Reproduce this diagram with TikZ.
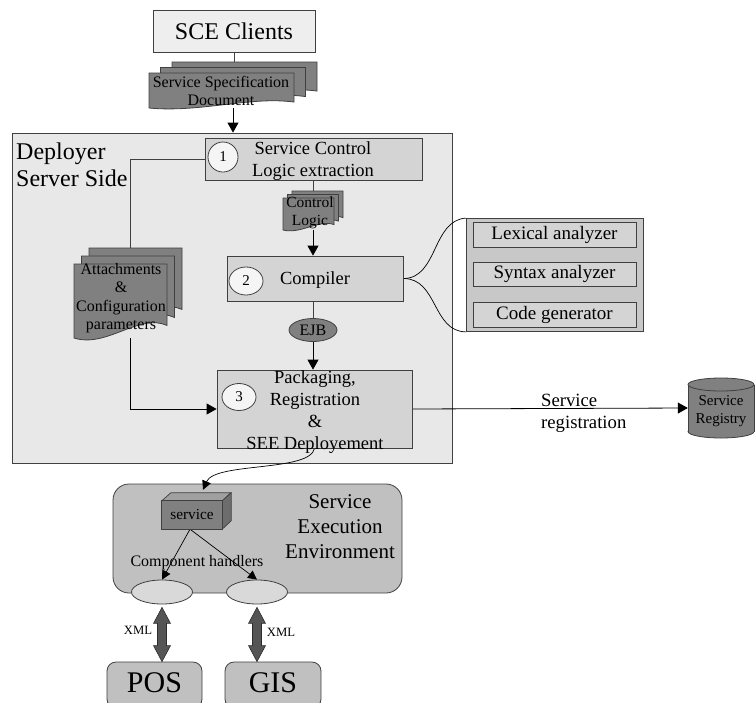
\documentclass[tikz,border=0pt]{standalone}
\usepackage{fontspec}
\setmainfont{Liberation Serif}
\usetikzlibrary{arrows.meta,calc,shapes.geometric}

\definecolor{edge}{HTML}{404040}
\definecolor{pagebg}{HTML}{FFFFFF}
\definecolor{clientfill}{HTML}{EEEEEE}
\definecolor{serverfill}{HTML}{E8E8E8}
\definecolor{procfill}{HTML}{D4D4D4}
\definecolor{darkfill}{HTML}{808080}
\definecolor{seefill}{HTML}{C0C0C0}
\definecolor{toolfill}{HTML}{C8C8C8}
\definecolor{portfill}{HTML}{D9D9D9}
\definecolor{stepfill}{HTML}{F5F5F5}
\definecolor{blockfill}{HTML}{555555}

\pgfdeclarelayer{back}
\pgfdeclarelayer{links}
\pgfsetlayers{back,links,main}

\tikzset{
  fnt/.style 2 args={font=\fontsize{#1}{#2}\selectfont},
  frame/.style={rectangle, inner sep=0pt},
  procbox/.style={rectangle, draw=edge, fill=procfill, line width=0.8pt, inner sep=0pt},
  txt/.style={inner sep=0pt, align=center, text=black},
  stepno/.style={ellipse, draw=edge, fill=stepfill, line width=0.8pt, inner sep=0pt, fnt={15}{17}},
  docsh/.style={draw=edge, fill=darkfill, line width=0.8pt},
  arr/.style={-{Triangle[length=10pt,width=11pt]}, line width=0.8pt, draw=black},
  arrsmall/.style={-{Triangle[length=9pt,width=9pt]}, line width=0.7pt, draw=black},
  plain/.style={line width=0.8pt, draw=edge},
  blockarr/.style={fill=blockfill, draw=edge!70!black, line width=0.6pt},
}

% one document sheet with a wavy lower edge: left, top, width, height
\newcommand{\docsheet}[4]{%
  \draw[docsh] ({#1},{#2}) -- ({#1+#3},{#2}) -- ({#1+#3},{#2+0.83*#4})
    .. controls ({#1+0.7*#3},{#2+0.66*#4}) and ({#1+0.35*#3},{#2+1.14*#4})
    .. ({#1},{#2+#4}) -- cycle;}
% a stack of three sheets, back sheets shifted by (dx,-dy)
\newcommand{\docstack}[6]{%
  \docsheet{#1+2*#5}{#2-2*#6}{#3}{#4}%
  \docsheet{#1+#5}{#2-#6}{#3}{#4}%
  \docsheet{#1}{#2}{#3}{#4}}
% thick two-headed block arrow between two points on a vertical line
\newcommand{\blockarrow}[2]{%
  \path[blockarr] let \p1=(#1), \p2=(#2) in
    (\x1,\y1) -- (\x1+8.5pt,\y1-16pt) -- (\x1+4.5pt,\y1-16pt) -- (\x1+4.5pt,\y2+16pt)
    -- (\x1+8.5pt,\y2+16pt) -- (\x1,\y2) -- (\x1-8.5pt,\y2+16pt) -- (\x1-4.5pt,\y2+16pt)
    -- (\x1-4.5pt,\y1-16pt) -- (\x1-8.5pt,\y1-16pt) -- cycle;}

\begin{document}
\begin{tikzpicture}[x=1pt,y=-1pt]
\useasboundingbox (0,0) rectangle (755,702);

% ---------- background regions ----------
\begin{pgfonlayer}{back}
  \fill[pagebg] (0,0) rectangle (755,702);
  \node[rectangle, draw=edge, fill=serverfill, line width=0.8pt,
        minimum width=440, minimum height=330] (dep) at (232,298) {};
  \node[rectangle, rounded corners=16pt, draw=edge, fill=seefill, line width=0.8pt,
        minimum width=289, minimum height=109] (see) at (257.5,538.5) {};
\end{pgfonlayer}

% ---------- clients ----------
\node[rectangle, draw=edge, fill=clientfill, line width=0.8pt, fnt={24}{28},
      minimum width=162, minimum height=42, inner sep=0pt] (sce) at (234,31) {SCE Clients};

% service specification document
\docstack{149}{73}{145}{35}{11.5}{5.5}
\node[frame, minimum width=168, minimum height=46] (ssd) at (233,85) {};
\node[txt, fnt={16}{17.5}] (ssdtxt) at (221,91) {Service Specification\\Document};

% ---------- deployer server side ----------
\node[txt, align=left, anchor=north west, fnt={24}{27}] (deptxt) at (16,142.5) {Deployer\\Server Side};

\node[procbox, minimum width=217, minimum height=42] (box1) at (313.5,159) {};
\node[stepno, minimum width=30, minimum height=30] (c1) at (223,157) {1};
\node[txt, fnt={18.5}{21.5}] (box1txt) at (313,161) {Service Control\\Logic extraction};

% control logic document
\docstack{283}{198}{51}{32}{4.5}{3.5}
\node[frame, minimum width=60, minimum height=39] (cl) at (313,210.5) {};
\node[txt, fnt={15.5}{18}] (cltxt) at (310,213) {Control\\Logic};

\node[procbox, minimum width=176, minimum height=45] (comp) at (315,278.5) {};
\node[stepno, minimum width=34, minimum height=28] (c2) at (246,281) {2};
\node[txt, fnt={18.5}{21.5}] (comptxt) at (315,280) {Compiler};

\node[ellipse, draw=edge, fill=darkfill, line width=0.8pt, inner sep=0pt, fnt={16}{18},
      minimum width=48, minimum height=23] (ejb) at (313,330) {EJB};

% attachments document
\docstack{74}{264}{93}{74}{7.5}{8}
\node[frame, minimum width=112, minimum height=90] (att) at (130,293) {};
\node[txt, fnt={16}{18.5}] (atttxt) at (121,298) {Attachments\\\&\\Configuration\\parameters};

\node[procbox, minimum width=195, minimum height=78] (box3) at (314.5,409) {};
\node[stepno, minimum width=34, minimum height=27] (c3) at (239,397) {3};
\node[txt, fnt={18.5}{22}] (box3txt) at (315,412) {Packaging,\\Registration\\\&\\SEE Deployement};

% ---------- compiler stages ----------
\node[rectangle, draw=edge, fill=toolfill, line width=0.8pt,
      minimum width=177, minimum height=113] (tools) at (555,275) {};
\node[procbox, fnt={19}{21}, minimum width=163, minimum height=25] (lex) at (554.5,234.5) {Lexical analyzer};
\node[procbox, fnt={19}{21}, minimum width=163, minimum height=24] (syn) at (554.5,274) {Syntax analyzer};
\node[procbox, fnt={19}{21}, minimum width=163, minimum height=25] (gen) at (554.5,314.5) {Code generator};

% ---------- service registry ----------
\node[frame, minimum width=66, minimum height=60] (reg) at (721,408) {};
\draw[docsh] (721,431.5) ellipse [x radius=33, y radius=6.5];
\fill[darkfill] (688,384.5) rectangle (754,431.5);
\draw[plain] (688,384.5) -- (688,431.5) (754,384.5) -- (754,431.5);
\draw[docsh] (721,384.5) ellipse [x radius=33, y radius=6.5];
\node[txt, fnt={15}{17.5}] (regtxt) at (721,411) {Service\\Registry};

\node[txt, align=left, anchor=west, fnt={18.7}{22}] (regnote) at (541,413) {Service\\registration};

% ---------- service execution environment ----------
\node[txt, fnt={21}{25}] (seetxt) at (340,527) {Service\\Execution\\Environment};

\node[frame, minimum width=60, minimum height=28] (svc) at (192,515) {};
\fill[darkfill!75!white, draw=edge, line width=0.7pt]
  (svc.north west) -- ++(9,-8) -- ++(60,0) -- (svc.north east) -- cycle;
\fill[darkfill!85!black, draw=edge, line width=0.7pt]
  (svc.north east) -- ++(9,-8) -- ++(0,28) -- (svc.south east) -- cycle;
\draw[docsh, line width=0.7pt] (svc.south west) rectangle (svc.north east);
\node[txt, fnt={15.3}{17}] (svctxt) at (svc.center) {service};

\node[txt, fnt={16}{18}] (handlers) at (197,563) {Component handlers};

\node[ellipse, draw=edge, fill=portfill, line width=0.8pt, inner sep=0pt,
      minimum width=61, minimum height=24] (e1) at (162,592) {};
\node[ellipse, draw=edge, fill=portfill, line width=0.8pt, inner sep=0pt,
      minimum width=61, minimum height=24] (e2) at (257,592) {};

\node[rectangle, rounded corners=9pt, draw=edge, fill=seefill, line width=0.8pt,
      minimum width=95, minimum height=46] (pos) at (154.5,685) {};
\node[rectangle, rounded corners=9pt, draw=edge, fill=seefill, line width=0.8pt,
      minimum width=96, minimum height=46] (gis) at (273,685) {};
\node[txt, fnt={30}{32}] (postxt) at (154.5,683) {POS};
\node[txt, fnt={30}{32}] (gistxt) at (273,683) {GIS};

\node[txt, fnt={12.7}{14}] (xml1) at (138,630) {XML};
\node[txt, fnt={12.7}{14}] (xml2) at (281,632) {XML};

% ---------- connectors ----------
\begin{pgfonlayer}{links}
  \draw[plain] (sce.south) -- (sce.south |- ssd.north);
  \draw[arr] (ssd.south) -- (ssd.south |- dep.north);
  \draw[plain] (box1.south -| cl.north) -- (cl.north);
  \draw[arr] (cl.south) -- (cl.south |- comp.north);
  \draw[plain] (ejb.north |- comp.south) -- (ejb.north);
  \draw[arr] (ejb.south) -- (ejb.south |- box3.north);
  \draw[plain] (box1.west) -| (att.north);
  \draw[arr] (att.south) |- (box3.west);
  \draw[arr] (box3.east) -- (reg.west);
  \draw[line width=0.7pt, draw=black] (comp.east) .. controls (438,278.5) and (432,220) .. (tools.north west);
  \draw[line width=0.7pt, draw=black] (comp.east) .. controls (438,278.5) and (432,331.5) .. (tools.south west);
  \draw[arrsmall] (box3.south) .. controls (310,472) and (215,462) .. ([xshift=11pt,yshift=11pt]svc.north);
  \draw[arrsmall] ([xshift=-2pt]svc.south) -- (e1.north);
  \draw[arrsmall] ([xshift=-2pt]svc.south) -- (e2.north);
  \blockarrow{[yshift=-3pt]e1.south}{pos.north}
  \blockarrow{[yshift=-3pt]e2.south}{gis.north}
\end{pgfonlayer}
\end{tikzpicture}
\end{document}
